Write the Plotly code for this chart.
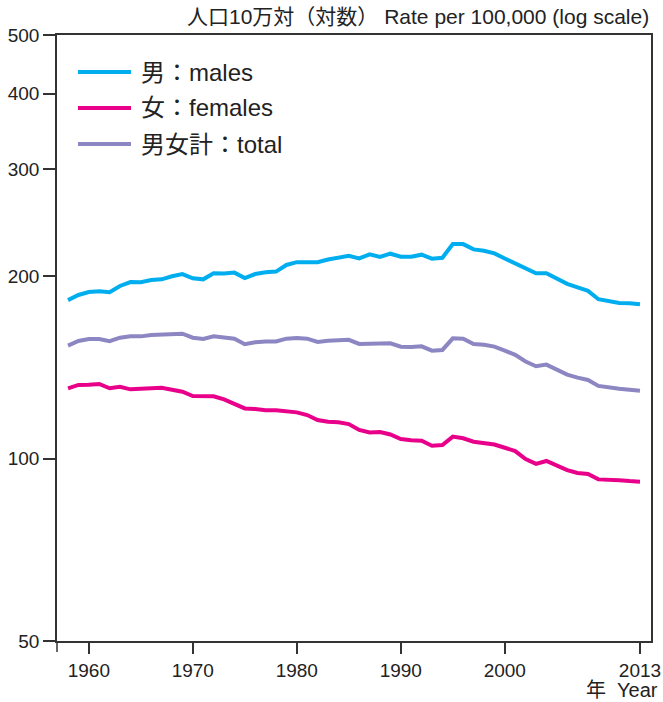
import plotly.graph_objects as go

years = list(range(1958, 2014))

males = [182.6, 186.2, 188.3, 188.8, 188.1, 192.7, 195.6, 195.4, 197.1, 197.6,
         199.9, 201.6, 198.4, 197.6, 202.2, 202.0, 202.7, 198.6, 201.6, 203.0,
         203.5, 208.7, 210.9, 211.1, 210.9, 213.1, 214.7, 216.0, 213.9, 217.3,
         215.1, 217.8, 215.3, 215.3, 217.0, 213.7, 214.5, 225.9, 225.9, 221.4,
         220.3, 218.1, 213.9, 210.0, 205.5, 202.2, 202.2, 198.4, 194.2, 191.7,
         189.1, 183.2, 182.2, 180.6, 180.5, 179.7]

females = [130.6, 132.3, 132.4, 132.8, 130.6, 131.4, 130.1, 130.2, 130.6, 130.9,
           129.8, 128.9, 126.8, 126.7, 126.7, 125.2, 123.3, 121.0, 120.7, 120.2,
           120.2, 119.9, 119.2, 118.0, 115.8, 115.0, 114.8, 114.0, 111.5, 110.4,
           110.6, 109.6, 107.7, 107.2, 107.0, 105.0, 105.3, 108.7, 108.0, 106.6,
           106.2, 105.5, 104.2, 102.9, 99.8, 98.0, 99.1, 97.3, 95.7, 94.7,
           94.3, 92.4, 92.4, 92.1, 91.8, 91.6]

total = [153.6, 156.3, 157.5, 157.5, 156.2, 158.3, 159.1, 159.1, 159.9, 160.3,
         160.3, 160.7, 158.3, 157.5, 159.1, 158.5, 157.7, 154.4, 155.6, 156.0,
         156.0, 157.7, 158.1, 157.7, 155.8, 156.5, 157.0, 157.0, 154.6, 154.7,
         154.4, 155.0, 153.0, 152.8, 153.2, 150.7, 151.1, 157.9, 157.7, 154.5,
         154.1, 153.0, 150.7, 148.3, 144.6, 142.0, 142.9, 140.1, 137.6, 136.0,
         134.8, 131.8, 130.9, 130.4, 129.9, 129.4]

x_ticks = [1960, 1970, 1980, 1990, 2000, 2013]
y_ticks = [50, 100, 200, 300, 400, 500]

names = ["男：males", "女：females", "男女計：total"]
colors = ["#00AEEF", "#E8008A", "#8C86C2"]

FONT = "Liberation Sans, Arial, Noto Sans CJK JP, sans-serif"
AX = "#333333"
TXT = "#222222"

W, H = 663, 702
L, R, T, B = 57, 12, 35, 61
PW, PH = W - L - R, H - T - B


def px_x(x):
    return (x - L) / PW


def px_y(y):
    return 1 - (y - T) / PH


fig = go.Figure()
for nm, ys, c in zip(names, [males, females, total], colors):
    fig.add_trace(go.Scatter(x=years, y=ys, mode="lines", name=nm,
                             line=dict(color=c, width=4)))

shapes = [dict(type="line", xref="paper", yref="paper", x0=0, x1=0,
               y0=0, y1=-11 / PH, line=dict(color=AX, width=1.5))]
annotations = [
    dict(text="人口10万対（対数） Rate per 100,000 (log scale)",
         xref="paper", yref="paper", x=1.0, y=1.0, xanchor="right",
         yanchor="middle", yshift=19, showarrow=False,
         font=dict(size=21, color=TXT)),
    dict(text="年  Year", xref="paper", yref="paper", x=1.0, y=0,
         xanchor="right", yanchor="middle", xshift=9, yshift=-49,
         showarrow=False, font=dict(size=20, color=TXT)),
]

# legend drawn as line samples + text
for i, (nm, c) in enumerate(zip(names, colors)):
    yy = px_y(72 + 36 * i)
    shapes.append(dict(type="line", xref="paper", yref="paper",
                       x0=px_x(78), x1=px_x(131), y0=yy, y1=yy,
                       line=dict(color=c, width=4)))
    annotations.append(dict(text=nm, xref="paper", yref="paper",
                            x=px_x(139), y=yy, xanchor="left",
                            yanchor="middle", showarrow=False,
                            font=dict(size=24, color=TXT)))

fig.update_layout(
    width=W, height=H,
    margin=dict(l=L, r=R, t=T, b=B),
    paper_bgcolor="white", plot_bgcolor="white",
    font=dict(family=FONT, size=19, color=TXT),
    showlegend=False,
    xaxis=dict(range=[1956.94, 2014.06], tickvals=x_ticks,
               ticktext=[str(v) for v in x_ticks],
               ticks="outside", ticklen=11, tickwidth=1.5, tickcolor=AX,
               showline=True, linecolor=AX, linewidth=1.5, mirror=True,
               showgrid=False, zeroline=False, automargin=False,
               tickfont=dict(size=19, color=TXT)),
    yaxis=dict(type="log", range=[1.69897, 2.69897], tickvals=y_ticks,
               ticktext=[str(v) for v in y_ticks],
               ticks="outside", ticklen=12, tickwidth=1.5, tickcolor=AX,
               showline=True, linecolor=AX, linewidth=1.5, mirror=True,
               showgrid=False, zeroline=False, automargin=False,
               tickfont=dict(size=19, color=TXT)),
    annotations=annotations,
    shapes=shapes,
)

fig.write_html(
    "out.html",
    config={"displayModeBar": False},
    post_script="document.body.style.margin='0';"
                "document.documentElement.style.overflow='hidden';",
)
